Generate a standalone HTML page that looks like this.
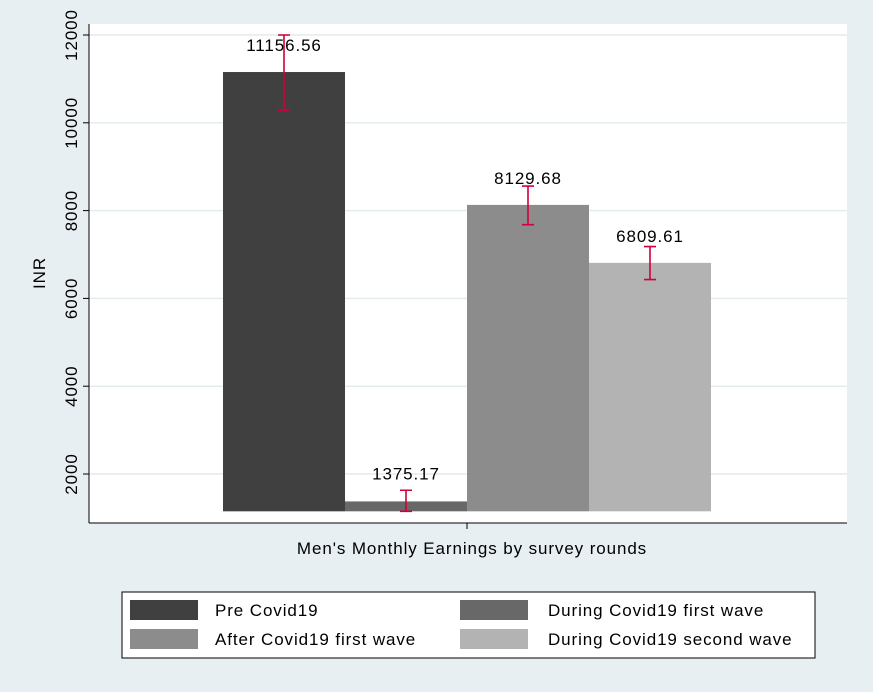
<!DOCTYPE html>
<html><head><style>
body{margin:0;background:#e8eff2;font-family:"Liberation Sans",sans-serif;}
text{letter-spacing:0.9px;}
</style></head><body>
<svg width="873" height="687" xmlns="http://www.w3.org/2000/svg">
<rect x="0" y="0" width="873" height="687" fill="#e8eff2"/>
<rect x="89" y="24" width="758" height="499" fill="#ffffff"/>
<g id="grid"></g>
<g id="bars"></g>
<g id="axes"></g>
<text x="472" y="554" font-size="17" text-anchor="middle" fill="#000">Men's Monthly Earnings by survey rounds</text>
<text transform="translate(45,273) rotate(-90)" font-size="17" text-anchor="middle" fill="#000">INR</text>
<g>
<rect x="122" y="592" width="693" height="66" fill="#fff" stroke="#000" stroke-width="1"/>
<g id="legend"></g>
</g>
</svg>
<script>
const categories=["Pre Covid19","During Covid19 first wave","After Covid19 first wave","During Covid19 second wave"];
const values=[11156.56,1375.17,8129.68,6809.61];
const lowCI=[10290,1150,7680,6430];
const highCI=[12000,1630,8560,7180];
const labels=["11156.56","1375.17","8129.68","6809.61"];
const yTicks=[2000,4000,6000,8000,10000,12000];
const colors=["#404040","#686868","#8c8c8c","#b3b3b3"];
const NS="http://www.w3.org/2000/svg";
const base=1150;
function y(v){return 474-(v-2000)*(474-35)/10000;}
const barX0=223,barW=122;
function x(i){return barX0+i*barW;}
function mk(tag,attrs,parent,text){const e=document.createElementNS(NS,tag);for(const k in attrs)e.setAttribute(k,attrs[k]);if(text!==undefined)e.textContent=text;document.getElementById(parent).appendChild(e);return e;}
yTicks.forEach(t=>{
 let g=mk('line',{x1:89,x2:847,y1:y(t),y2:y(t),stroke:'#e4ecee','stroke-width':1.5},'grid');
 
 
 let tk=mk('line',{x1:83,x2:89,y1:y(t),y2:y(t),stroke:'#000'},'axes');
 
 
 let tl=mk('text',{transform:`translate(77,${y(t)}) rotate(-90)`,'font-size':17,'text-anchor':'middle'},'axes',String(t));
 
 
});
let ya=mk('line',{x1:89,x2:89,y1:24,y2:523,stroke:'#000'},'axes');


let xa=mk('line',{x1:89,x2:847,y1:523,y2:523,stroke:'#000'},'axes');


let xt=mk('line',{x1:467,x2:467,y1:523,y2:529,stroke:'#000'},'axes');


values.forEach((v,i)=>{
 let r=mk('rect',{x:x(i),y:y(v),width:barW,height:y(base)-y(v),fill:colors[i]},'bars');
 
 
 const cx=x(i)+barW/2;
 let l=mk('text',{x:cx,y:y(v)-(i==0?22:i==1?22:21),'font-size':17,'text-anchor':'middle'},'bars',labels[i]);
 if(i==0) l.setAttribute('y',51);
 
 
 let e=mk('path',{d:`M${cx},${y(highCI[i])}V${y(lowCI[i])}M${cx-6},${y(highCI[i])}H${cx+6}M${cx-6},${y(lowCI[i])}H${cx+6}`,stroke:'#d0003c','stroke-width':1.6,fill:'none'},'bars');
 
 
});
const legPos=[[130,600,215],[460,600,548],[130,629,215],[460,629,548]];
categories.forEach((c,i)=>{
 const p=legPos[i];
 let s=mk('rect',{x:p[0],y:p[1],width:68,height:20,fill:colors[i]},'legend');
 
 
 let t=mk('text',{x:p[2],y:p[1]+16,'font-size':17},'legend',c);
 
 
});
</script>
</body></html>
